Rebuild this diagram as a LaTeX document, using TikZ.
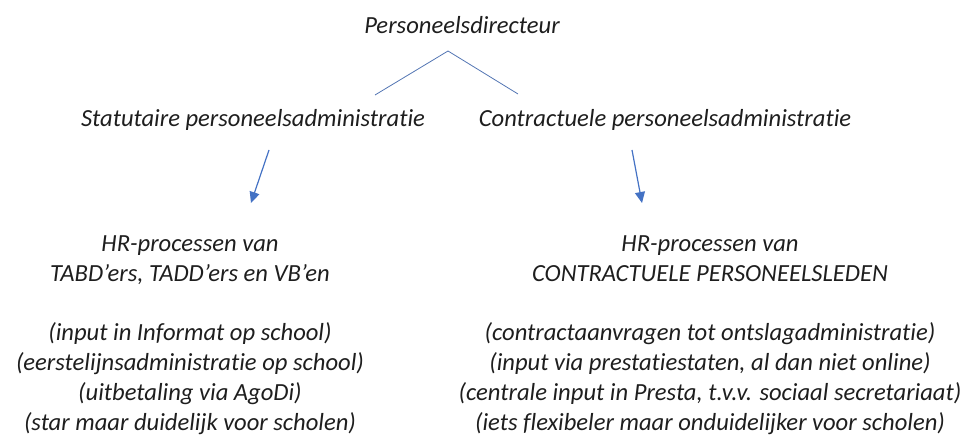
\documentclass[tikz,border=0pt]{standalone}
\usepackage{fontspec}
\setmainfont{Carlito}[Ligatures=NoCommon]
\usetikzlibrary{arrows.meta}
\definecolor{hrblue}{RGB}{68,114,196}
\definecolor{hrtext}{RGB}{30,30,30}
\tikzset{node distance=2cm,
  txt/.style={inner sep=0pt, align=center, text=hrtext,
    font=\fontsize{12.3}{15}\selectfont\itshape},
  tree/.style={draw=hrblue!75!gray, line width=0.4pt},
  down/.style={draw=hrblue, line width=0.6pt, -{Triangle[length=5.5pt,width=5pt]}}}

\begin{document}
\begin{tikzpicture}[x=0.5pt,y=0.5pt]
  \useasboundingbox (0,0) rectangle (973,438);
  \node[txt, anchor=base] (dir) at (462,404) {Personeelsdirecteur};
  \node[txt, anchor=base] (stat) at (253,311) {Statutaire personeelsadministratie};
  \node[txt, anchor=base] (contr) at (665,311) {Contractuele personeelsadministratie};

  % base anchor sits on the last line
  \node[txt, anchor=base] (hrstat) at (190,156) {HR-processen van\\TABD’ers, TADD’ers en VB’en};
  \node[txt, anchor=base] (hrcontr) at (710,156) {HR-processen van\\CONTRACTUELE PERSONEELSLEDEN};

  \node[txt, anchor=base] (infostat) at (190,7) {(input in Informat op school)\\(eerstelijnsadministratie op school)\\(uitbetaling via AgoDi)\\(star maar duidelijk voor scholen)};
  \node[txt, anchor=base] (infocontr) at (710,7) {(contractaanvragen tot ontslagadministratie)\\(input via prestatiestaten, al dan niet online)\\(centrale input in Presta, t.v.v. sociaal secretariaat)\\(iets flexibeler maar onduidelijker voor scholen)};

  \coordinate (top) at (448,387);
  \coordinate (lefttop) at (375,343);
  \coordinate (righttop) at (518,344);
  \draw[tree] (lefttop) -- (top) -- (righttop);

  \coordinate (statout) at (269,288);
  \coordinate (statin) at (251,235);
  \coordinate (controut) at (632,288);
  \coordinate (contrin) at (642,235);
  \draw[down] (statout) -- (statin);
  \draw[down] (controut) -- (contrin);
\end{tikzpicture}
\end{document}
